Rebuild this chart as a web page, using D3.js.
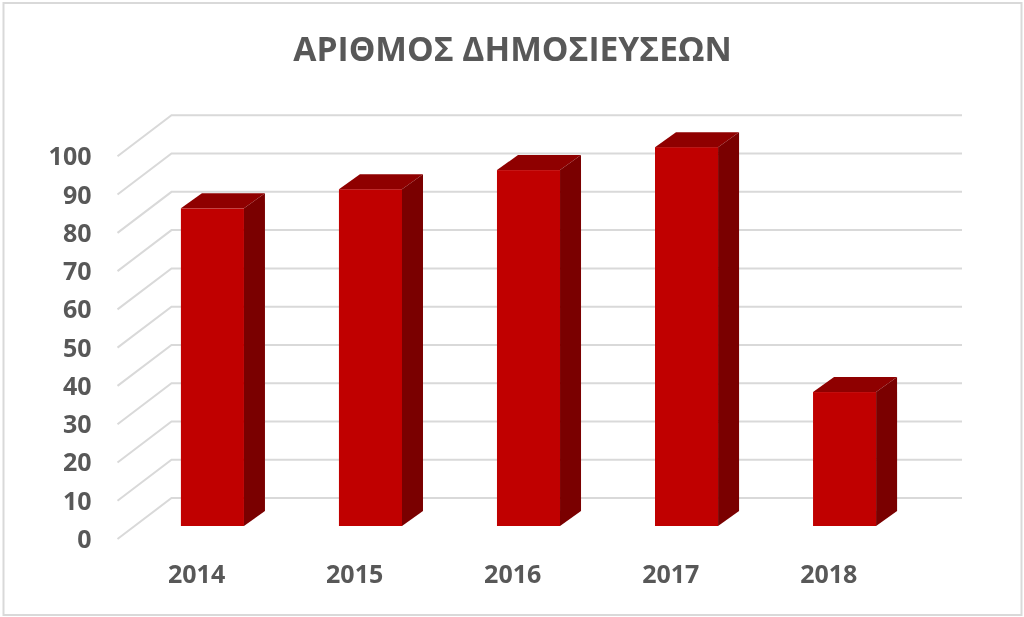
<!DOCTYPE html>
<html><head><meta charset="utf-8">
<script src="https://cdn.jsdelivr.net/npm/d3@7"></script>
<style>html,body{margin:0;padding:0;background:#fff}svg{display:block}</style></head>
<body><svg id="c" width="1024" height="617"></svg>
<script>
const title = "ΑΡΙΘΜΟΣ ΔΗΜΟΣΙΕΥΣΕΩΝ";
const categories = ["2014","2015","2016","2017","2018"];
const values = [83,88,93,99,35];
const yTicks = [0,10,20,30,40,50,60,70,80,90,100];

const svg = d3.select("#c");
const defs = svg.append("defs");
defs.append("filter").attr("id","soft").append("feGaussianBlur").attr("stdDeviation",0.55);

svg.append("rect").attr("x",3.5).attr("y",3).attr("width",1018).attr("height",612)
  .attr("fill","#fff").attr("stroke","#d9d9d9").attr("stroke-width",2);

const g = svg.append("g").attr("filter","url(#soft)");
const font = "'Open Sans',sans-serif";

const yBack = d3.scaleLinear().domain([0,100]).range([498,115.3]);
const wallDX = 54, wallDY = 41;
const x = d3.scaleBand().domain(categories).range([133.5,923.5]).paddingInner(0.601).paddingOuter(0.3);
const depthX = 21, depthY = 15, floorY = 526;
const yBar = v => floorY - (yBack(0)-yBack(v));

yTicks.forEach(t=>{
  const y=yBack(t);
  g.append("path").attr("d",d3.line()([[171.5-wallDX,y+wallDY],[171.5,y],[962,y]]))
    .attr("fill","none").attr("stroke","#d9d9d9").attr("stroke-width",2);
});

categories.forEach((c,i)=>{
  const x0=x(c), x1=x0+x.bandwidth(), top=yBar(values[i]);
  g.append("rect").attr("x",x0).attr("y",top).attr("width",x.bandwidth()).attr("height",floorY-top).attr("fill","#c00000");
  g.append("polygon").attr("points",[[x0,top],[x0+depthX,top-depthY],[x1+depthX,top-depthY],[x1,top]].join(" ")).attr("fill","#8f0000");
  g.append("polygon").attr("points",[[x1,top],[x1+depthX,top-depthY],[x1+depthX,floorY-depthY],[x1,floorY]].join(" ")).attr("fill","#7a0000");
});

yTicks.forEach(t=>{
  g.append("text").attr("x",91.5).attr("y",yBack(t)+wallDY+9).attr("text-anchor","end")
   .attr("font-family",font).attr("font-weight",700).attr("font-size",25).attr("fill","#595959").text(t);
});
categories.forEach(c=>{
  g.append("text").attr("x",x(c)+x.bandwidth()/2-15.8).attr("y",583).attr("text-anchor","middle")
   .attr("font-family",font).attr("font-weight",700).attr("font-size",25).attr("fill","#595959").text(c);
});
g.append("text").attr("x",512.5).attr("y",61).attr("text-anchor","middle")
  .attr("font-family",font).attr("font-weight",700).attr("font-size",33.6).attr("fill","#595959").text(title);
</script></body></html>
